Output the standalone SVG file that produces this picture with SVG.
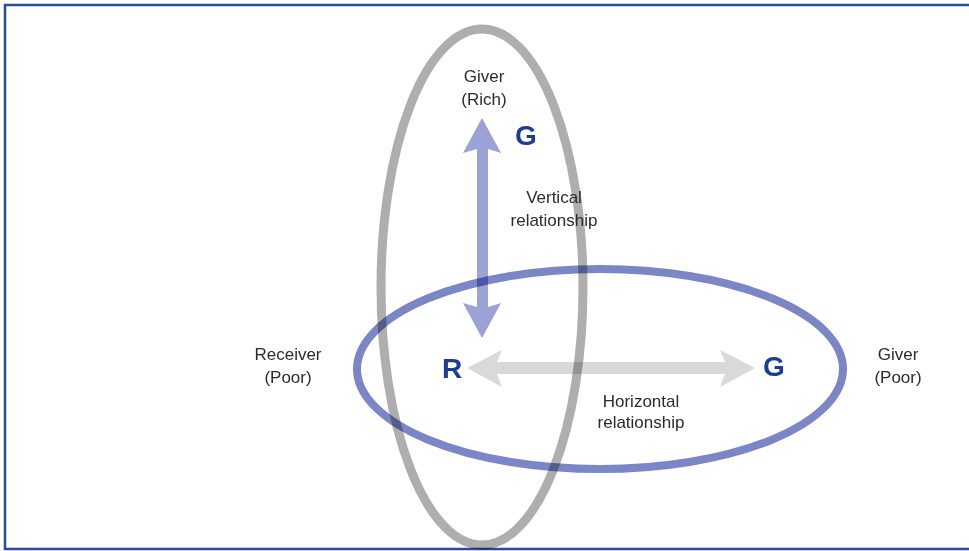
<svg xmlns="http://www.w3.org/2000/svg" width="969" height="551" viewBox="0 0 969 551">
<style>
.lbl{font-family:"Liberation Sans",Arial,sans-serif;font-size:17px;fill:#2b2b2b;text-anchor:middle}
.let{font-family:"Liberation Sans",Arial,sans-serif;font-size:28px;font-weight:bold;fill:#1e3c96;text-anchor:middle}
.m{mix-blend-mode:multiply}
</style>
<rect x="0" y="0" width="969" height="551" fill="#ffffff"/>
<rect x="5" y="5" width="975" height="544" fill="none" stroke="#2b4a9d" stroke-width="2.5"/>
<g id="groups">
<g id="vertical-group"><ellipse class="m" cx="482" cy="287" rx="101" ry="258" fill="none" stroke="#aeaeae" stroke-width="9"/></g>
<g id="horizontal-group"><ellipse class="m" cx="600" cy="369" rx="243" ry="100" fill="none" stroke="#7b86c6" stroke-width="8"/></g>
</g>
<g id="connectors">
<path class="m" d="M482,118 L501,153 L488,149 L488,307 L501,303 L482,338 L463,303 L477,307 L477,149 L463,153 Z" fill="#9ba3d6"/>
<path class="m" d="M467,368 L502,350 L497,362 L725,362 L720,350 L755,368 L720,387 L725,374 L497,374 L502,387 Z" fill="#d9d9d9"/>
</g>
<g id="giver-rich"><text class="lbl" x="484" y="82">Giver</text><text class="lbl" x="484" y="105">(Rich)</text></g>
<g id="node-G-top"><text class="let" x="526" y="145">G</text></g>
<g id="node-R"><text class="let" x="452" y="378">R</text></g>
<g id="node-G-right"><text class="let" x="774" y="376">G</text></g>
<g id="vertical-label"><text class="lbl" x="554" y="203">Vertical</text><text class="lbl" x="554" y="226">relationship</text></g>
<g id="horizontal-label"><text class="lbl" x="641" y="407">Horizontal</text><text class="lbl" x="641" y="428">relationship</text></g>
<g id="receiver-poor"><text class="lbl" x="288" y="360">Receiver</text><text class="lbl" x="288" y="383">(Poor)</text></g>
<g id="giver-poor"><text class="lbl" x="898" y="360">Giver</text><text class="lbl" x="898" y="383">(Poor)</text></g>
</svg>
